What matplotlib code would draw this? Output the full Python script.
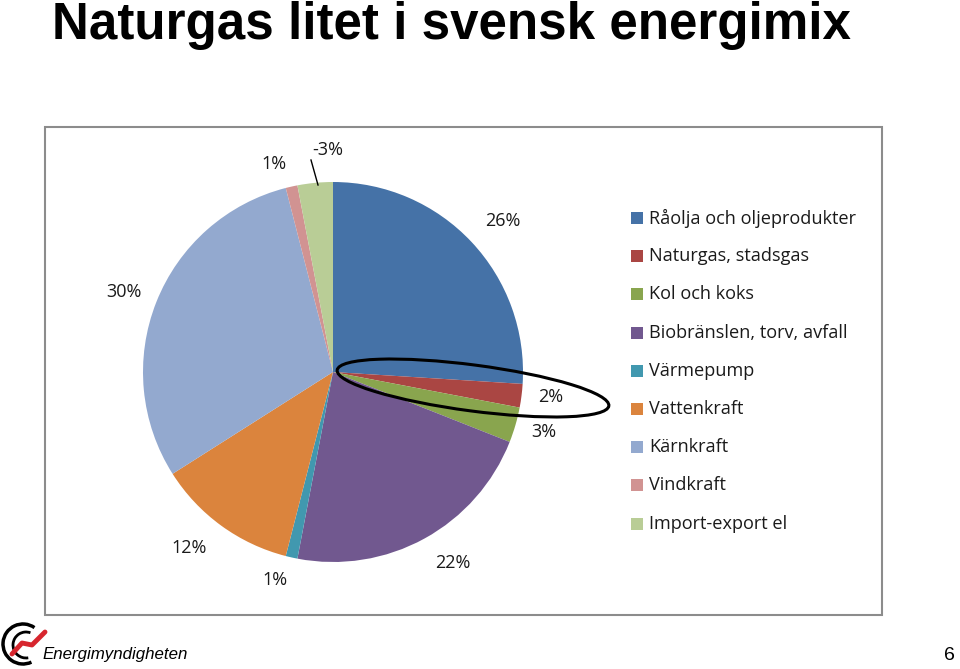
import matplotlib.pyplot as plt
from matplotlib.patches import Rectangle, Ellipse, Arc

# data
categories = ['Råolja och oljeprodukter', 'Naturgas, stadsgas', 'Kol och koks',
              'Biobränslen, torv, avfall', 'Värmepump', 'Vattenkraft',
              'Kärnkraft', 'Vindkraft', 'Import-export el']
shares = [26, 2, 3, 22, 1, 12, 30, 1, 3]
labels = ['26%', '2%', '3%', '22%', '1%', '12%', '30%', '1%', '-3%']
colors = ['#4572A7', '#AA4643', '#89A54E', '#71588F', '#4198AF',
          '#DB843D', '#93A9CF', '#D19392', '#B9CD96']

W, H = 960, 669
fig = plt.figure(figsize=(W / 100, H / 100), dpi=100)

# pie axes, centre (333, 372) px, radius 190 px
cx, cy, r = 333, 372, 190
ax = fig.add_axes([(cx - r) / W, (H - cy - r) / H, 2 * r / W, 2 * r / H])
wedges, _ = ax.pie(shares, colors=colors, startangle=90, counterclock=False,
                   radius=1, wedgeprops=dict(linewidth=0))
ax.set_xlim(-1, 1)
ax.set_ylim(-1, 1)
ax.axis('off')

# overlay in pixel coordinates for text and decorations
ov = fig.add_axes([0, 0, 1, 1])
ov.set_xlim(0, W)
ov.set_ylim(H, 0)
ov.axis('off')

ov.text(52, 39, 'Naturgas litet i svensk energimix', fontsize=36.8,
        fontweight='bold', family='Liberation Sans', va='baseline')

ov.add_patch(Rectangle((45, 127), 837, 488, fill=False,
                       edgecolor='#8c8c8c', linewidth=1.5))

lab_font = dict(family='Open Sans', fontsize=13, color='#1a1a1a',
                ha='center', va='center')
label_pos = [(503, 221), (551, 397), (544, 432), (453, 563), (275, 580),
             (189, 548), (124, 292), (274, 164), (328, 150)]
for (x, y), t in zip(label_pos, labels):
    ov.text(x, y, t, **lab_font)
ov.plot([311, 318], [160, 185], color='black', linewidth=1)

# ellipse highlighting natural gas
ov.add_patch(Ellipse((473, 388), 274, 46, angle=7.5, fill=False,
                     edgecolor='black', linewidth=2.2))

# legend
for i, (c, name) in enumerate(zip(colors, categories)):
    y = 218 + i * 38.2
    ov.add_patch(Rectangle((631, y - 6), 12, 12, facecolor=c, edgecolor='none'))
    ov.text(649, y, name, family='Open Sans', fontsize=13.1,
            color='#1a1a1a', va='center', ha='left')

# footer
ov.add_patch(Arc((23, 644), 40, 40, theta1=65, theta2=305,
                 color='black', linewidth=2.5))
ov.add_patch(Arc((26, 645), 26, 26, theta1=80, theta2=290,
                 color='black', linewidth=2))
ov.plot([12, 22, 32, 45], [654, 643, 645, 632], color='#d7262e', linewidth=3.5,
        solid_capstyle='round')
ov.text(42, 655, 'Energimyndigheten', family='Liberation Sans',
        fontstyle='italic', fontweight='medium', fontsize=12.2,
        va='center', ha='left')
ov.text(955, 656, '6', family='Liberation Sans', fontsize=14,
        va='center', ha='right')

fig.savefig('out.png', dpi=100)
